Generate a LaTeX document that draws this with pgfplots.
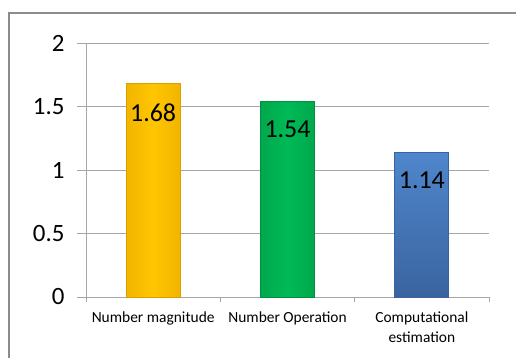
\documentclass[border=0pt]{standalone}
\usepackage{pgfplots}
\pgfplotsset{compat=1.18}
\usepackage{fontspec}
\setmainfont{Carlito}
\definecolor{gridc}{HTML}{A6A6A6}
\definecolor{frame}{HTML}{8C8C8C}
\definecolor{yelm}{HTML}{FFC600}
\definecolor{yele}{HTML}{F2B400}
\definecolor{yeld}{HTML}{D9A000}
\definecolor{grnm}{HTML}{00BA56}
\definecolor{grne}{HTML}{00A84C}
\definecolor{grnd}{HTML}{009040}
\definecolor{blut}{HTML}{4F86CC}
\definecolor{blub}{HTML}{3A64A0}
\begin{document}
\begin{tikzpicture}
\useasboundingbox (0,0) rectangle (516bp,358bp);
\draw[frame, line width=1.6bp] (9bp,-5bp) -- (9bp,345bp) -- (530bp,345bp);
\begin{axis}[
  at={(86bp,61bp)}, anchor=south west,
  scale only axis, width=403bp, height=254bp,
  xmin=-0.5, xmax=2.5, ymin=0, ymax=2,
  /pgf/number format/assume math mode=true,
  axis lines=left, axis line style={-, gridc, line width=0.8bp},
  ytick={0,0.5,1,1.5,2},
  yticklabels={0,0.5,1,1.5,2},
  ymajorgrids, major grid style={gridc, line width=0.8bp},
  tick align=outside,
  major tick length=9bp,
  ytick style={gridc, line width=0.8bp},
  xtick={0,1,2},
  xticklabels={Number magnitude, Number Operation, Computational\\estimation},
  x tick label style={align=center, font=\fontsize{15.5}{20}\selectfont, yshift=-2bp},
  major x tick style={draw=none},
  minor xtick={-0.5,0.5,1.5,2.5},
  minor tick length=5bp,
  minor x tick style={gridc, line width=0.8bp},
  y tick label style={font=\fontsize{25}{25}\selectfont, xshift=-9bp},
  bar width=54bp,
  nodes near coords,
  every node near coord/.append style={anchor=north, yshift=-16bp, font=\fontsize{26}{26}\selectfont, text=black},
  clip=false,
]
\addplot[ybar, bar shift=0pt, draw=yeld, line width=0.8bp, left color=yele, right color=yele, middle color=yelm] coordinates {(0,1.68)};
\addplot[ybar, bar shift=0pt, draw=grnd, line width=0.8bp, left color=grne, right color=grne, middle color=grnm] coordinates {(1,1.54)};
\addplot[ybar, bar shift=0pt, draw=blub, line width=0.8bp, top color=blut, bottom color=blub] coordinates {(2,1.14)};
\end{axis}
\end{tikzpicture}
\end{document}
